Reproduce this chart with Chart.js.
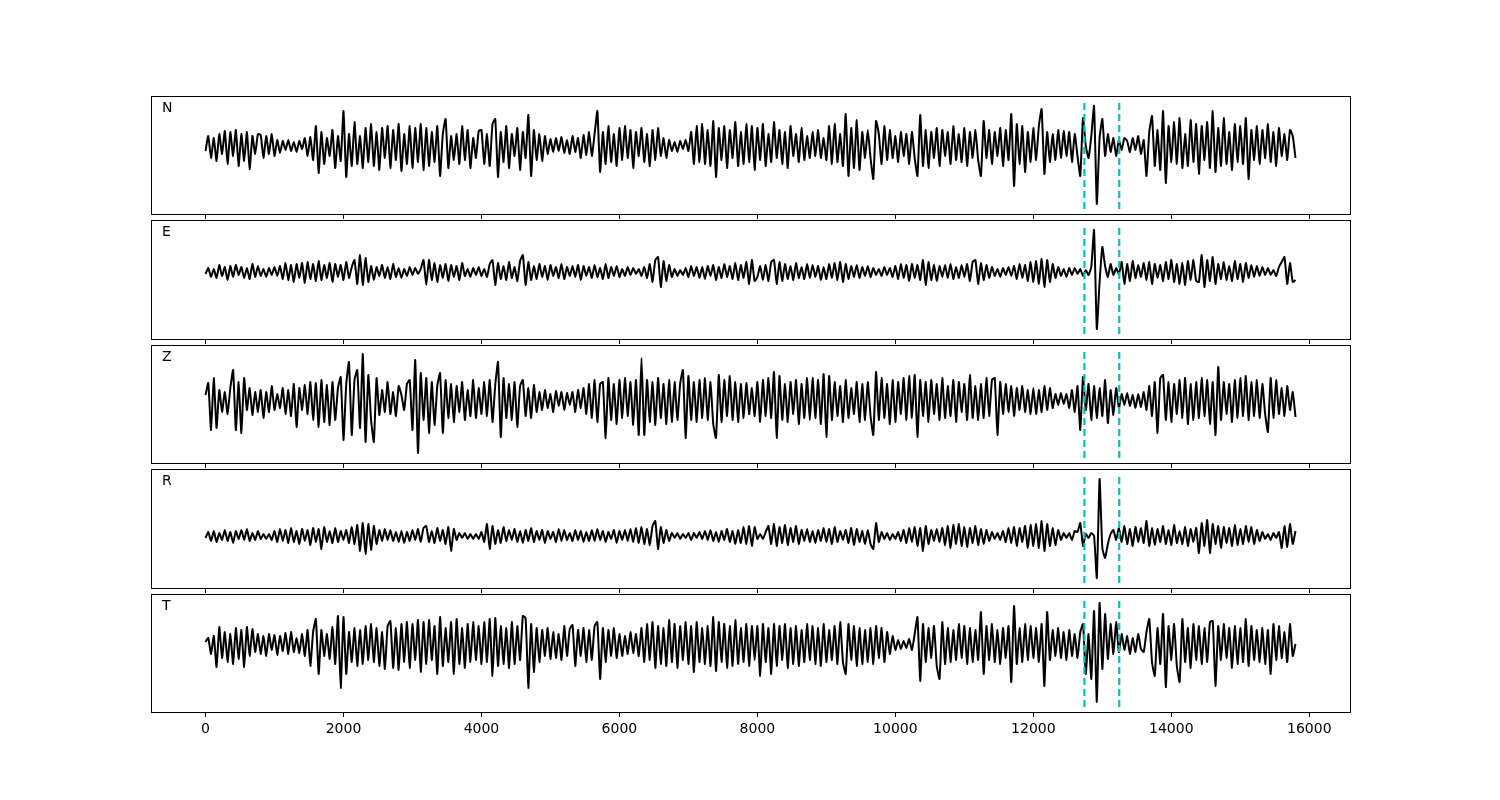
<!DOCTYPE html>
<html><head><meta charset="utf-8">
<script src="https://cdn.jsdelivr.net/npm/chart.js@4.4.1/dist/chart.umd.min.js"></script>
<style>
html,body{margin:0;padding:0;background:#fff;width:1500px;height:800px;overflow:hidden}
#wrap{position:relative;width:1500px;height:800px}
canvas{position:absolute}
</style></head><body><div id="wrap"></div>
<script>
// sample spacing along the x axis (sample index units)
const sampleStep = 40;
const xTicks = [0, 2000, 4000, 6000, 8000, 10000, 12000, 14000, 16000];
const pickX = [12740, 13245];
const channels = ['N', 'E', 'Z', 'R', 'T'];

const traceN = [
-5,10,-12,8,-15,12,-8,15,-18,14,-10,16,-20,12,-15,14,-23,10,-8,12,
11,-12,10,-8,12,-10,6,-7,5,-4,6,-5,4,-6,5,-3,8,-10,9,-14,
20,-27,14,-18,8,-10,16,-22,10,-15,35,-31,12,-20,24,-18,10,-22,18,-16,
22,-20,14,-24,18,-12,20,-22,16,-14,22,-25,12,-18,20,-22,18,-16,22,-24,
18,-20,14,-16,20,-30,12,27,-22,10,-14,12,-18,20,-14,16,-22,8,-12,15,
16,-18,12,-20,22,27,-31,14,-16,20,-22,12,-10,18,-24,14,-12,31,-30,16,
-14,12,-15,10,-8,7,-6,8,-5,9,-7,6,-8,10,-6,8,-12,11,-9,14,
-10,12,35,-26,14,-18,20,-16,12,-20,18,-14,20,-12,16,-22,14,-10,18,-16,
12,-20,16,-14,18,-10,8,-12,6,-5,4,-6,5,-3,6,-5,14,-18,20,-16,
22,-18,16,-20,25,-31,18,-14,20,-22,16,-12,24,-20,14,-18,22,-16,20,-24,
18,-14,22,-20,12,-16,24,-12,16,-18,14,-22,20,-10,12,-16,18,-14,10,-12,
14,-10,16,-12,8,-14,20,-18,22,-16,12,-20,32,-30,18,-22,26,-24,14,-12,
16,-12,-33,25,12,-18,20,-14,16,-12,10,-16,14,-10,12,-18,14,-12,-30,31,
-20,16,-22,14,-12,18,-20,16,-10,14,-18,20,-14,12,-16,18,-20,14,-12,16,
-14,-30,25,-12,16,-18,14,-10,18,-20,16,-14,32,-40,22,-18,20,-26,14,-16,
18,-14,20,37,-28,14,-16,12,-14,16,-12,15,-10,14,-16,12,-10,-30,28,0,
-12,10,40,-58,8,27,-10,12,-6,8,-10,6,-4,8,5,-6,8,-4,10,-8,
6,-30,14,30,-20,16,-24,35,-37,20,-16,24,-18,28,-22,12,-20,26,-16,22,
-28,20,-14,24,-22,35,-26,18,-20,28,-18,14,-24,22,-16,20,-18,28,-33,16,
-14,20,-18,16,-12,22,-16,14,-20,18,-10,12,-14,16,10,-12
];

const traceE = [
-2,4,-5,3,-6,7,-4,5,-8,6,-5,7,-3,5,-6,4,-7,8,-5,6,
-4,3,-5,4,-3,5,-4,6,-7,9,-8,7,-10,8,-6,9,-11,10,-7,8,
-9,11,-8,7,-6,9,-10,8,-5,7,-8,10,-6,5,12,-12,17,-13,14,-10,
6,-8,5,-4,7,-6,5,-7,8,-5,4,-6,3,-4,5,-3,4,-2,3,12,
-13,12,-8,9,-10,7,-6,8,-9,7,-5,6,-8,9,-4,3,-5,4,-3,5,
-4,3,-5,8,12,-13,9,-7,6,-8,10,-6,5,-9,11,17,-13,10,-8,6,
-7,8,-5,6,-8,7,-4,5,-6,8,-7,5,-4,6,-5,7,-8,6,-4,5,
-6,7,-5,4,-7,8,-6,5,-4,6,-5,3,-4,5,-3,4,-2,3,-4,5,
-6,8,-10,12,15,-15,11,-9,7,-5,3,-4,2,-3,4,-5,6,-4,5,-6,
5,-7,6,-4,7,-8,5,-6,8,-5,6,-7,9,-8,7,-6,10,-12,12,-9,
-5,6,-8,7,-9,10,12,-12,10,-9,8,-7,6,-8,9,-6,5,-7,8,-6,
7,-5,6,-8,5,-7,8,-6,9,-8,10,-10,8,-7,6,-5,7,-6,5,-4,
6,-5,4,-3,3,-4,5,-3,4,-5,6,-7,8,-6,7,-9,8,-6,7,-8,
12,-13,10,-8,7,-9,6,-5,7,-6,8,-7,5,-6,7,-5,8,-9,10,12,
-12,9,-8,7,-6,5,-4,3,-5,4,-3,5,-4,6,-7,8,-6,7,-9,10,
-10,11,-12,13,-15,12,-10,8,-6,5,-4,3,-5,4,-3,4,-2,3,-4,2,
-3,5,42,-57,-10,25,6,-5,8,-3,4,-2,10,-12,8,-9,11,-6,7,-5,
9,-8,10,-12,8,-6,7,-9,10,-7,12,-10,8,-12,9,-13,11,-8,12,-9,
-10,17,-15,12,-9,15,-12,8,-7,10,-8,6,-9,11,-7,8,-10,9,-6,7,
-5,6,-4,5,-3,4,-3,2,-4,5,10,15,-12,9,-10,-8
];

const traceZ = [
5,17,-30,22,-28,10,-12,8,-14,12,30,-30,18,-33,22,-10,12,-15,8,-12,
10,-18,8,-12,14,-10,6,-8,12,-14,10,-16,16,-27,12,-10,15,-14,18,-20,
17,-27,20,-22,15,-25,18,-20,12,23,-40,16,38,-35,20,30,-28,46,-42,25,
-20,-42,22,-15,10,-12,18,-14,8,-16,14,5,-10,16,20,-30,40,-53,27,-20,
22,-33,18,-25,14,27,-33,20,-18,16,-22,14,-12,18,-20,10,-16,20,-18,12,
-14,18,-16,20,-22,15,38,-37,22,-18,16,-20,18,-27,14,20,-16,12,-18,15,
-12,8,-10,10,-8,6,-12,9,-6,8,-10,7,-5,8,-12,10,-8,12,-14,16,
-18,20,-22,16,18,-38,22,-20,16,-24,20,-18,22,-16,18,-25,20,-35,42,-35,
20,-22,18,-25,22,-18,16,-24,20,-22,18,-20,16,30,-38,24,-20,18,-22,20,
-18,22,-20,18,-24,-38,25,-22,20,-16,24,-20,18,-22,16,-18,17,-14,12,-16,
18,-22,20,-16,22,-18,28,-38,24,-20,16,-22,18,-14,20,-24,16,-18,22,-20,
22,-18,20,-24,26,-37,24,-20,18,-16,14,-22,20,-18,12,-14,18,-22,16,-20,
18,-16,-35,28,-20,22,-18,16,-24,20,-22,18,-14,22,-20,24,-18,25,-37,20,
-16,18,-22,20,-14,16,-20,22,-18,14,-16,20,-22,18,-12,16,-20,25,-18,14,
-20,16,-18,22,-16,20,22,-35,18,-14,16,-12,14,-16,12,-10,14,-12,10,-14,
12,-14,10,-12,14,-10,12,-8,6,-5,7,-4,6,-8,10,-12,14,-30,23,-10,
16,-20,14,-18,12,-16,20,-23,10,-15,12,-8,6,-5,7,-6,5,-8,6,-7,
8,-10,14,-16,18,-33,22,25,-20,18,-22,16,-14,20,-18,22,-24,16,-20,18,
-18,22,-16,20,-24,18,-35,33,-20,18,-14,16,-22,20,-18,22,-16,24,-20,18,
-16,20,-18,16,-14,-32,22,-18,20,-14,12,-16,14,-10,8,-17
];

const traceR = [
-2,4,-5,5,-6,3,-4,6,-5,4,-7,5,-3,6,-4,7,-5,3,-4,5,
-3,2,-3,2,-4,5,-6,7,-5,6,-7,8,-6,5,-8,7,-5,6,-9,8,
-6,7,-13,9,-6,5,-7,8,-6,5,-4,6,-7,9,-8,11,-15,13,-18,12,
-14,10,-8,6,-5,7,-4,6,-5,4,-6,5,-7,4,-5,6,-4,7,-6,8,
10,-6,5,-7,8,-5,6,-8,9,-15,7,-4,3,-2,3,-3,2,-3,2,-3,
4,-6,12,-13,10,-8,6,-7,9,-5,6,-4,7,-6,5,-7,6,-5,8,-6,
5,-4,6,-7,5,-3,4,-6,7,-5,6,-4,3,-5,6,-4,5,-6,4,-5,
6,-5,7,-4,5,-6,4,-3,6,-7,5,-4,6,-5,7,-6,8,-7,9,-8,
7,-9,10,15,-13,9,-7,6,-5,3,-2,3,-3,2,-2,3,-4,3,-2,4,
-3,5,-4,6,-5,4,-6,5,-4,7,-6,5,-8,6,-7,9,-8,10,-10,9,
-3,2,-3,4,10,-8,12,-10,9,-7,11,-9,8,-6,10,-8,6,-5,7,-6,
5,-7,6,-5,8,-6,7,-8,9,-6,5,-4,6,-7,8,-9,7,-6,5,-8,
6,-8,-13,13,-6,4,-3,3,-4,2,-3,4,-5,6,-7,8,-6,9,-10,8,
-15,10,-8,6,-5,7,-6,8,-9,10,-12,11,-8,12,-10,9,-11,8,-7,10,
-9,7,-8,6,-5,4,-3,3,-4,5,-6,8,-7,9,-10,8,-6,10,-12,11,
-10,12,-12,15,-15,12,-10,8,-9,6,-4,3,-2,3,-4,5,4,13,-10,2,
-2,3,0,-42,57,-12,-22,-8,2,6,-4,8,-6,10,-8,7,-10,9,-6,8,
-7,15,-10,8,-9,7,-6,10,-8,6,-9,11,-7,5,-8,9,-10,7,-6,8,
-17,13,-10,16,-17,12,-8,10,-12,9,-7,8,-10,11,-9,7,-8,10,-6,9,
-8,6,-5,4,-3,2,-4,3,-2,4,-12,10,-11,12,-8,5
];

const traceT = [
2,6,-10,8,-23,17,-14,12,-18,10,-20,16,-15,14,-23,17,-12,15,-8,10,
-10,8,-12,10,-6,9,-11,8,-7,11,-10,12,-8,6,-9,10,-12,14,-22,12,
25,-30,14,-12,10,-15,17,-20,28,-44,27,-30,12,-18,16,-22,14,-20,18,-16,
20,-18,16,-22,12,-25,18,23,-24,16,-26,20,-18,22,-24,20,-16,24,-28,22,
-20,24,-16,18,-30,27,-22,16,-18,22,-30,25,-20,16,-24,20,-18,22,-16,18,
-20,22,-18,25,-32,26,-22,18,-20,16,-24,22,-20,18,-16,28,26,-44,20,-28,
16,-18,14,-12,16,-15,12,-14,10,-16,18,-12,15,19,-22,14,-12,16,-18,14,
-16,18,22,-35,16,-18,14,-12,16,-14,10,-12,8,-10,12,-9,10,-12,16,-18,
20,-16,22,-24,18,-20,16,-22,24,-18,20,-24,18,-16,22,-20,18,-28,22,-18,
16,-20,18,-22,27,-27,22,-18,20,-24,18,-22,24,-20,16,-18,20,-22,18,-16,
18,-32,20,-18,16,-30,20,-22,18,-16,20,-24,16,-20,18,-22,14,-18,20,-16,
18,-20,16,-22,20,-18,14,-16,18,-20,22,-18,-30,20,-16,18,-22,16,-20,14,
-18,16,-20,18,-14,16,-18,12,-10,8,-6,4,-5,3,-4,5,-6,10,27,-37,
20,-18,16,-14,18,-22,-35,22,-20,16,-18,14,-16,20,-14,18,-20,16,-18,14,
-16,32,-30,18,-16,20,-18,14,-20,16,-14,18,-38,38,-20,16,-18,20,-16,18,
-14,16,-18,20,-42,32,-16,14,-12,16,-14,12,-16,14,-12,10,-14,12,20,-30,
10,-35,33,-58,41,-25,30,-15,20,-10,22,-8,10,-6,8,-10,6,-8,10,-5,
-8,12,25,-18,-32,16,-20,30,-43,18,-16,20,-22,-38,25,-18,16,-24,20,-16,
18,-20,16,-18,22,23,-42,18,-16,20,-14,16,-24,18,-20,16,-18,25,-22,18,
-16,14,-18,16,-20,14,-30,20,-16,18,-14,12,-18,20,-12,0
];

const traces = [traceN, traceE, traceZ, traceR, traceT];
const yLimits = [[-68, 50], [-67, 52], [-63, 55], [-52, 67], [-68, 50]];

// layout (page pixels)
const panelTops = [96, 220, 345, 469, 594];
const panelHeights = [118, 119, 118, 119, 118];
const xMin = -790, xMax = 16590;
const canvasLeft = 145, canvasWidth = 1210, padLeft = 6, padRight = 5, padTop = 6, axisH = 30;

Chart.defaults.font.family = '"DejaVu Sans", sans-serif';
Chart.defaults.font.size = 14;
Chart.defaults.color = '#000';

const framePlugin = {
  id: 'frame',
  afterDraw(chart, args, opts) {
    const ctx = chart.ctx, a = chart.chartArea;
    ctx.save();
    ctx.strokeStyle = '#000';
    ctx.lineWidth = 1;
    ctx.strokeRect(a.left + 0.5, a.top + 0.5, a.right - a.left, a.bottom - a.top);
    ctx.fillStyle = '#000';
    ctx.font = '14px "DejaVu Sans", sans-serif';
    ctx.textBaseline = 'top';
    ctx.textAlign = 'left';
    ctx.fillText(opts.text, a.left + 11, a.top + 5);
    ctx.restore();
  }
};

const wrap = document.getElementById('wrap');
channels.forEach((name, k) => {
  const cv = document.createElement('canvas');
  const h = padTop + panelHeights[k] + axisH;
  cv.width = canvasWidth; cv.height = h;
  cv.style.left = canvasLeft + 'px';
  cv.style.top = (panelTops[k] - padTop) + 'px';
  cv.style.width = canvasWidth + 'px';
  cv.style.height = h + 'px';
  wrap.appendChild(cv);
  const [yMin, yMax] = yLimits[k];
  const isLast = k === channels.length - 1;
  const pickSets = pickX.map(px => ({
    data: [{x: px, y: yMin + 5}, {x: px, y: yMax - 5}],
    borderColor: '#00bfbf', borderWidth: 2.2, borderDash: [7, 4],
    pointRadius: 0, fill: false, tension: 0, order: 1
  }));
  new Chart(cv, {
    type: 'line',
    data: {
      datasets: [{
        data: traces[k].map((v, i) => ({x: i * sampleStep, y: v})),
        borderColor: '#000', borderWidth: 2, pointRadius: 0,
        fill: false, tension: 0.15, order: 2
      }, ...pickSets]
    },
    options: {
      responsive: false, animation: false, events: [],
      layout: {padding: {left: padLeft, right: padRight, top: padTop, bottom: 0}},
      plugins: {legend: {display: false}, tooltip: {enabled: false}, frame: {text: name}},
      scales: {
        x: {
          type: 'linear', min: xMin, max: xMax,
          afterBuildTicks: ax => { ax.ticks = xTicks.map(v => ({value: v})); },
          afterFit: ax => { ax.height = axisH; },
          border: {display: false},
          grid: {display: true, drawOnChartArea: false, drawTicks: true, tickLength: 5, color: '#000', lineWidth: 1},
          ticks: {display: isLast, padding: 4, maxRotation: 0, autoSkip: false, color: '#000',
                  callback: v => String(v)}
        },
        y: {type: 'linear', min: yMin, max: yMax, display: false}
      }
    },
    plugins: [framePlugin]
  });
});
</script>
</body></html>
